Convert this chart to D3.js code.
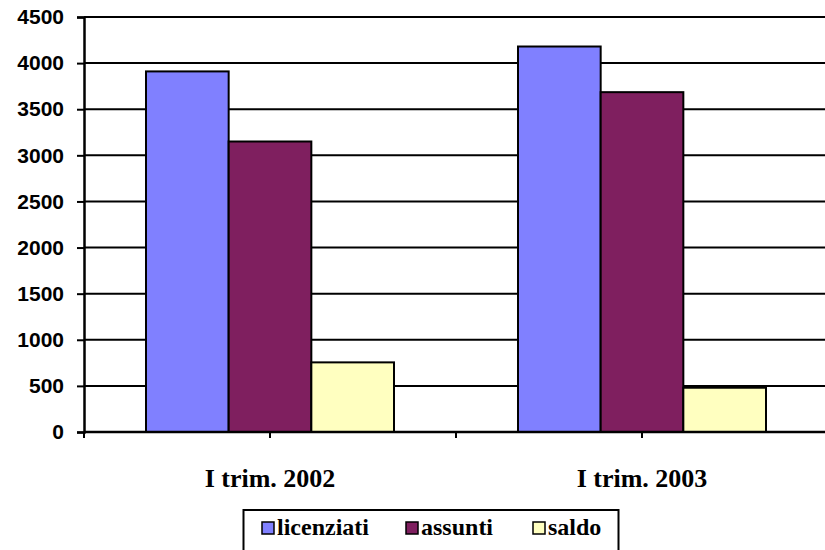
<!DOCTYPE html>
<html>
<head>
<meta charset="utf-8">
<script src="https://d3js.org/d3.v7.min.js"></script>
<style>
  body { margin: 0; background: #fff; }
</style>
</head>
<body>
<svg width=825 height=550></svg>
<script>
var categories = ["I trim. 2002", "I trim. 2003"]
var series = ["licenziati", "assunti", "saldo"]
var licenziati = [3910, 4180]
var assunti = [3150, 3685]
var saldo = [755, 480]
var yTicks = [0, 500, 1000, 1500, 2000, 2500, 3000, 3500, 4000, 4500]
var colors = ["#8080FF", "#7F1F5F", "#FFFFC0"]

var values = [licenziati, assunti, saldo]
var data = categories.map(function(c, i) {
  return { cat: c, vals: series.map(function(s, j) { return { key: s, value: values[j][i] } }) }
})

var svg = d3.select('svg')

// plot area (avoid "top" — it clashes with window.top)
var plotL = 84, plotR = 828, plotT = 17, plotB = 432

var x0 = d3.scaleBand().domain(categories).range([plotL, plotR]).padding(0)
var x1 = d3.scaleBand().domain(series).range([0, x0.bandwidth() * 2 / 3])
var y = d3.scaleLinear().domain([0, 4500]).range([plotB, plotT])
var color = d3.scaleOrdinal().domain(series).range(colors)

// gridlines
svg.append('g')
  .selectAll('line')
  .data(yTicks.filter(function(d) { return d > 0 }))
  .join('line')
  .attr('x1', plotL)
  .attr('x2', 825)
  .attr('y1', function(d) { return y(d) })
  .attr('y2', function(d) { return y(d) })
  .attr('stroke', '#000')
  .attr('stroke-width', 2)

// bars
var offset = x0.bandwidth() / 6
svg.append('g')
  .selectAll('g')
  .data(data)
  .join('g')
  .attr('transform', function(d) { return 'translate(' + (x0(d.cat) + offset) + ',0)' })
  .selectAll('rect')
  .data(function(d) { return d.vals })
  .join('rect')
  .attr('x', function(d) { return x1(d.key) })
  .attr('y', function(d) { return y(d.value) })
  .attr('width', x1.bandwidth())
  .attr('height', function(d) { return y(0) - y(d.value) })
  .attr('fill', function(d) { return color(d.key) })
  .attr('stroke', '#000')
  .attr('stroke-width', 2)

// y axis
var yAxis = svg.append('g')
  .attr('transform', 'translate(' + plotL + ',0)')
  .call(d3.axisLeft(y).tickValues(yTicks).tickFormat(d3.format('d')).tickSize(7).tickPadding(13))
yAxis.select('.domain').attr('stroke-width', 2.5)
yAxis.selectAll('.tick line').attr('stroke-width', 2)
yAxis.selectAll('text')
  .attr('font-family', 'Liberation Sans, Arial, sans-serif')
  .attr('font-weight', 'bold')
  .attr('font-size', 21)
  .attr('fill', '#000')

// x axis
svg.append('line')
  .attr('x1', plotL).attr('x2', 825)
  .attr('y1', plotB).attr('y2', plotB)
  .attr('stroke', '#000').attr('stroke-width', 2.5)

var xTickPos = []
categories.forEach(function(c) {
  xTickPos.push(x0(c))
  xTickPos.push(x0(c) + x0.bandwidth() / 2)
})
xTickPos.push(plotR)
svg.append('g')
  .selectAll('line')
  .data(xTickPos)
  .join('line')
  .attr('x1', function(d) { return d })
  .attr('x2', function(d) { return d })
  .attr('y1', plotB)
  .attr('y2', plotB + 6)
  .attr('stroke', '#000')
  .attr('stroke-width', 2)

svg.append('g')
  .selectAll('text')
  .data(categories)
  .join('text')
  .attr('x', function(d) { return x0(d) + x0.bandwidth() / 2 })
  .attr('y', 487)
  .attr('text-anchor', 'middle')
  .attr('font-family', 'Liberation Serif, Times New Roman, serif')
  .attr('font-weight', 'bold')
  .attr('font-size', 26)
  .text(function(d) { return d })

// legend
svg.append('rect')
  .attr('x', 243.5).attr('y', 510)
  .attr('width', 375).attr('height', 50)
  .attr('fill', '#fff')
  .attr('stroke', '#000')
  .attr('stroke-width', 2)

var legendX = [262, 406, 533]
var legend = svg.append('g')
  .selectAll('g')
  .data(series)
  .join('g')
  .attr('transform', function(d, i) { return 'translate(' + legendX[i] + ',522)' })
legend.append('rect')
  .attr('width', 12).attr('height', 12)
  .attr('fill', function(d) { return color(d) })
  .attr('stroke', '#000')
  .attr('stroke-width', 1.5)
legend.append('text')
  .attr('x', 15)
  .attr('y', 13)
  .attr('font-family', 'Liberation Serif, Times New Roman, serif')
  .attr('font-weight', 'bold')
  .attr('font-size', 24)
  .text(function(d) { return d })
</script>
</body>
</html>
